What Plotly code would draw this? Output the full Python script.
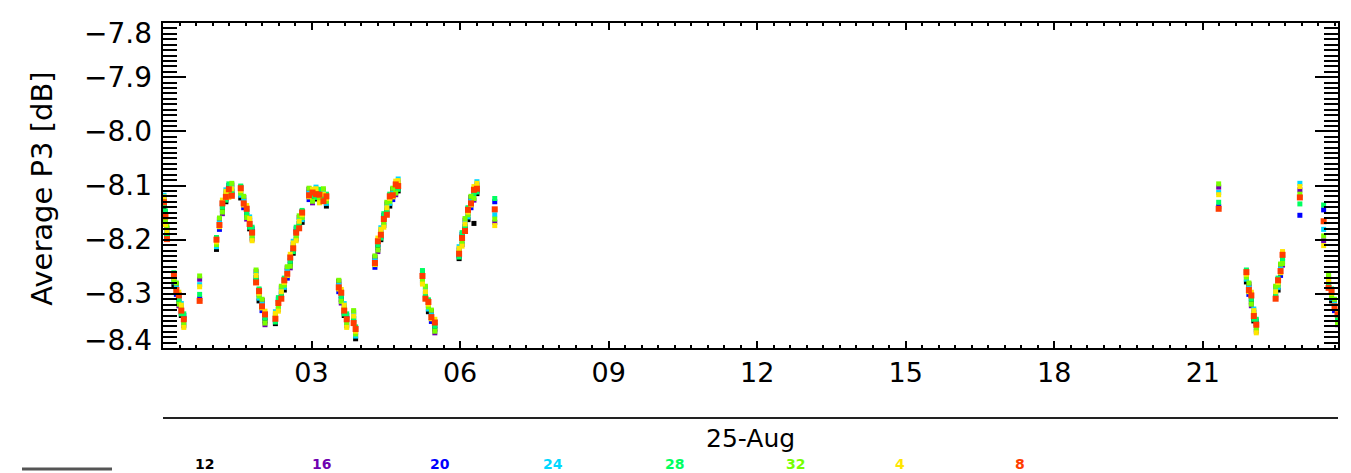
import plotly.graph_objects as go

# Time of day (hours, 25-Aug)
hours = [0.02, 0.05, 0.08, 0.22, 0.27, 0.32, 0.37, 0.42, 0.74,
         1.08, 1.14, 1.20, 1.27, 1.33, 1.39, 1.57, 1.63, 1.69, 1.75, 1.80,
         1.88, 1.94, 2.00, 2.06, 2.27, 2.33, 2.39, 2.45, 2.51, 2.57, 2.63, 2.69, 2.75, 2.81,
         2.95, 3.02, 3.09, 3.16, 3.24, 3.30, 3.55, 3.60, 3.66, 3.71, 3.85, 3.89,
         4.28, 4.34, 4.40, 4.46, 4.52, 4.58, 4.64, 4.70, 4.75,
         5.24, 5.30, 5.36, 5.42, 5.49, 5.98, 6.04, 6.10, 6.16, 6.22, 6.28, 6.34, 6.70,
         21.32, 21.88, 21.93, 21.98, 22.03, 22.08, 22.47, 22.52, 22.57, 22.61,
         22.96, 23.44, 23.54, 23.60, 23.66, 23.72]

p3_12 = [-8.140, -8.155, -8.190, -8.283, -8.282, -8.315, -8.340, -8.345, None,
         -8.218, -8.162, -8.145, -8.130, -8.105, -8.110, -8.123, -8.122, -8.155, -8.180, -8.185,
         -8.270, -8.313, -8.312, -8.350, -8.355, -8.315, -8.300, -8.293, -8.252, -8.245, -8.225, -8.185, -8.170, -8.168,
         -8.107, -8.125, -8.125, -8.115, -8.120, -8.138, -8.277, -8.310, -8.340, -8.345, -8.345, -8.383,
         -8.232, -8.215, -8.200, -8.160, -8.145, -8.138, -8.107, -8.110, -8.110,
         -8.265, -8.300, -8.333, -8.332, -8.365, -8.235, -8.195, -8.175, -8.163, -8.122, -8.170, -8.115, None,
         None, -8.278, -8.282, -8.315, -8.350, -8.355, -8.300, -8.293, -8.247, -8.240,
         None, None, -8.280, -8.313, -8.312, -8.350]

p3_16 = [-8.124, -8.169, -8.179, -8.272, -8.287, -8.322, -8.324, -8.359, -8.273,
         -8.207, -8.167, -8.152, -8.114, -8.119, -8.099, -8.112, -8.127, -8.162, -8.164, -8.199,
         -8.259, -8.302, -8.317, -8.357, -8.339, -8.329, -8.289, -8.282, -8.257, -8.252, -8.209, -8.199, -8.159, -8.157,
         -8.112, -8.132, -8.109, -8.129, -8.109, -8.127, -8.282, -8.317, -8.324, -8.359, -8.334, -8.372,
         -8.237, -8.222, -8.184, -8.174, -8.134, -8.127, -8.112, -8.117, -8.094,
         -8.279, -8.289, -8.322, -8.337, -8.372, -8.219, -8.209, -8.164, -8.152, -8.127, -8.127, -8.099, -8.168,
         -8.103, -8.267, -8.287, -8.322, -8.334, -8.369, -8.289, -8.282, -8.252, -8.247,
         -8.108, -8.202, -8.269, -8.302, -8.317, -8.357]

p3_20 = [-8.134, -8.150, -8.197, -8.263, -8.301, -8.308, -8.334, -8.340, -8.309,
         -8.198, -8.181, -8.138, -8.124, -8.100, -8.117, -8.103, -8.141, -8.148, -8.174, -8.180,
         -8.277, -8.293, -8.331, -8.343, -8.349, -8.310, -8.307, -8.273, -8.271, -8.238, -8.219, -8.180, -8.177, -8.148,
         -8.126, -8.118, -8.119, -8.110, -8.127, -8.118, -8.296, -8.303, -8.334, -8.340, -8.352, -8.363,
         -8.251, -8.208, -8.194, -8.155, -8.152, -8.118, -8.126, -8.103, -8.104,
         -8.260, -8.307, -8.313, -8.351, -8.358, -8.229, -8.190, -8.182, -8.143, -8.141, -8.113, -8.109, -8.130,
         -8.139, -8.258, -8.301, -8.308, -8.344, -8.350, -8.307, -8.273, -8.266, -8.233,
         -8.155, -8.145, -8.287, -8.293, -8.331, -8.343]

p3_24 = [-8.118, -8.162, -8.184, -8.278, -8.289, -8.301, -8.318, -8.352, -8.283,
         -8.213, -8.169, -8.131, -8.108, -8.112, -8.104, -8.118, -8.129, -8.141, -8.158, -8.192,
         -8.264, -8.308, -8.319, -8.336, -8.333, -8.322, -8.294, -8.288, -8.259, -8.231, -8.203, -8.192, -8.164, -8.163,
         -8.114, -8.111, -8.103, -8.122, -8.114, -8.133, -8.284, -8.296, -8.318, -8.352, -8.339, -8.378,
         -8.239, -8.201, -8.178, -8.167, -8.139, -8.133, -8.114, -8.096, -8.088,
         -8.272, -8.294, -8.328, -8.339, -8.351, -8.213, -8.202, -8.169, -8.158, -8.129, -8.106, -8.093, -8.154,
         -8.113, -8.273, -8.289, -8.301, -8.328, -8.362, -8.294, -8.288, -8.254, -8.226,
         -8.096, -8.181, -8.274, -8.308, -8.319, -8.336]

p3_28 = [-8.137, -8.147, -8.193, -8.261, -8.295, -8.310, -8.337, -8.337, -8.301,
         -8.196, -8.175, -8.140, -8.127, -8.097, -8.113, -8.101, -8.135, -8.150, -8.177, -8.177,
         -8.273, -8.291, -8.325, -8.345, -8.352, -8.307, -8.303, -8.271, -8.265, -8.240, -8.222, -8.177, -8.173, -8.146,
         -8.120, -8.120, -8.122, -8.107, -8.123, -8.116, -8.290, -8.305, -8.337, -8.337, -8.348, -8.361,
         -8.245, -8.210, -8.197, -8.152, -8.148, -8.116, -8.120, -8.105, -8.107,
         -8.257, -8.303, -8.311, -8.345, -8.360, -8.232, -8.187, -8.178, -8.141, -8.135, -8.115, -8.112, -8.124,
         -8.131, -8.256, -8.295, -8.310, -8.347, -8.347, -8.303, -8.271, -8.260, -8.235,
         -8.134, -8.136, -8.283, -8.291, -8.325, -8.345]

p3_32 = [-8.128, -8.166, -8.176, -8.274, -8.280, -8.319, -8.328, -8.356, -8.267,
         -8.209, -8.160, -8.149, -8.118, -8.116, -8.096, -8.114, -8.120, -8.159, -8.168, -8.196,
         -8.256, -8.304, -8.310, -8.354, -8.343, -8.326, -8.286, -8.284, -8.250, -8.249, -8.213, -8.196, -8.156, -8.159,
         -8.105, -8.129, -8.113, -8.126, -8.106, -8.129, -8.275, -8.314, -8.328, -8.356, -8.331, -8.374,
         -8.230, -8.219, -8.188, -8.171, -8.131, -8.129, -8.105, -8.114, -8.098,
         -8.276, -8.286, -8.324, -8.330, -8.369, -8.223, -8.206, -8.161, -8.154, -8.120, -8.124, -8.103, -8.162,
         -8.097, -8.269, -8.280, -8.319, -8.338, -8.366, -8.286, -8.284, -8.245, -8.244,
         -8.116, -8.193, -8.266, -8.304, -8.310, -8.354]

p3_4 = [-8.121, -8.172, -8.186, -8.269, -8.296, -8.297, -8.321, -8.362, -8.287,
        -8.204, -8.176, -8.127, -8.111, -8.122, -8.106, -8.109, -8.136, -8.137, -8.161, -8.202,
        -8.266, -8.299, -8.326, -8.332, -8.336, -8.332, -8.296, -8.279, -8.266, -8.227, -8.206, -8.202, -8.166, -8.154,
        -8.121, -8.107, -8.106, -8.132, -8.116, -8.124, -8.291, -8.292, -8.321, -8.362, -8.341, -8.369,
        -8.246, -8.197, -8.181, -8.177, -8.141, -8.124, -8.121, -8.092, -8.091,
        -8.282, -8.296, -8.319, -8.346, -8.347, -8.216, -8.212, -8.171, -8.149, -8.136, -8.102, -8.096, -8.174,
        -8.117, -8.264, -8.296, -8.297, -8.331, -8.372, -8.296, -8.279, -8.261, -8.222,
        -8.102, -8.211, -8.276, -8.299, -8.326, -8.332]

p3_8 = [-8.131, -8.157, -8.199, -8.265, -8.293, -8.303, -8.331, -8.347, -8.313,
        -8.200, -8.173, -8.133, -8.121, -8.107, -8.119, -8.105, -8.133, -8.143, -8.171, -8.187,
        -8.279, -8.295, -8.323, -8.338, -8.346, -8.317, -8.309, -8.275, -8.263, -8.233, -8.216, -8.187, -8.179, -8.150,
        -8.118, -8.113, -8.116, -8.117, -8.129, -8.120, -8.288, -8.298, -8.331, -8.347, -8.354, -8.365,
        -8.243, -8.203, -8.191, -8.162, -8.154, -8.120, -8.118, -8.098, -8.101,
        -8.267, -8.309, -8.315, -8.343, -8.353, -8.226, -8.197, -8.184, -8.145, -8.133, -8.108, -8.106, -8.144,
        -8.143, -8.260, -8.293, -8.303, -8.341, -8.357, -8.309, -8.275, -8.258, -8.228,
        -8.122, -8.166, -8.289, -8.295, -8.323, -8.338]

series_names = ["12", "16", "20", "24", "28", "32", "4", "8"]
series_values = [p3_12, p3_16, p3_20, p3_24, p3_28, p3_32, p3_4, p3_8]
series_colors = ["#000000", "#7000b0", "#0000ff", "#00d8ff", "#00ff60", "#78ff00", "#ffe600", "#ff3c00"]
marker_sizes = [5, 5, 5, 5, 5, 5, 5, 6]

y_ticks = [-8.4, -8.3, -8.2, -8.1, -8.0, -7.9, -7.8]
y_ticktext = ["\u22128.4", "\u22128.3", "\u22128.2", "\u22128.1", "\u22128.0", "\u22127.9", "\u22127.8"]
x_ticks = [3, 6, 9, 12, 15, 18, 21]
x_ticktext = ["03", "06", "09", "12", "15", "18", "21"]

FONT = "DejaVu Sans"

fig = go.Figure()
for name, vals, col, ms in zip(series_names, series_values, series_colors, marker_sizes):
    fig.add_trace(go.Scatter(
        x=hours, y=vals, mode="markers", name=name,
        marker=dict(symbol="square", size=ms, color=col, line=dict(width=0)),
        showlegend=False,
    ))

# the page body adds an 8 px margin, so the figure is 8 px smaller and offset
fig.update_layout(
    width=1343, height=465,
    margin=dict(l=155, r=13, t=15, b=125, autoexpand=False),
    paper_bgcolor="white", plot_bgcolor="white",
    font=dict(family=FONT, size=28, color="black"),
    showlegend=False,
)

fig.update_xaxes(
    range=[0.0001, 23.73], showgrid=False, zeroline=False, automargin=False,
    showline=True, linecolor="black", linewidth=2, mirror="ticks",
    tickmode="array", tickvals=x_ticks, ticktext=x_ticktext,
    ticks="inside", ticklen=7, tickwidth=2, tickcolor="black",
    tickfont=dict(family=FONT, size=27, color="black"),
    minor=dict(tickmode="linear", tick0=0, dtick=1/3, ticks="inside", ticklen=3, tickwidth=2, tickcolor="black"),
)
fig.update_yaxes(
    range=[-8.4, -7.8], showgrid=False, zeroline=False, automargin=False,
    showline=True, linecolor="black", linewidth=2, mirror="ticks",
    tickmode="array", tickvals=y_ticks, showticklabels=False,
    ticks="inside", ticklen=23, tickwidth=2, tickcolor="black",
    minor=dict(tickmode="linear", tick0=-8.4, dtick=0.01, ticks="inside", ticklen=14, tickwidth=2, tickcolor="black"),
)

# y tick labels (end labels pulled inward as in the original)
label_shift = [8, 0, 0, 0, 0, 0, -10]
for v, t, s in zip(y_ticks, y_ticktext, label_shift):
    fig.add_annotation(text=t, xref="paper", yref="y", x=-0.008, y=v, yshift=s,
                       showarrow=False, xanchor="right", yanchor="middle",
                       font=dict(family=FONT, size=28, color="black"))

# y-axis title
fig.add_annotation(text="Average P3 [dB]", xref="paper", yref="paper", x=-0.103, y=0.49,
                   textangle=-90, showarrow=False, xanchor="center", yanchor="middle",
                   font=dict(family=FONT, size=29, color="black"))

# date axis line and label
fig.add_shape(type="line", xref="paper", yref="paper", x0=0, x1=1, y0=-0.2154, y1=-0.2154,
              line=dict(color="#222222", width=2))
fig.add_annotation(text="25-Aug", xref="paper", yref="paper", x=0.5, y=-0.278,
                   showarrow=False, xanchor="center", yanchor="middle",
                   font=dict(family=FONT, size=25, color="black"))

# colour key along the bottom edge
key_x = [0.0349, 0.1345, 0.2357, 0.3319, 0.4349, 0.5379, 0.6272, 0.7294]
for name, col, kx in zip(series_names, series_colors, key_x):
    fig.add_annotation(text=f"<b>{name}</b>", xref="paper", yref="paper", x=kx, y=-0.356,
                       showarrow=False, xanchor="center", yanchor="middle",
                       font=dict(family=FONT, size=14, color=col))
fig.add_shape(type="line", xref="paper", yref="paper", x0=-0.12, x1=-0.0434, y0=-0.372, y1=-0.372,
              line=dict(color="#555555", width=3))

fig.write_html("out.html")
